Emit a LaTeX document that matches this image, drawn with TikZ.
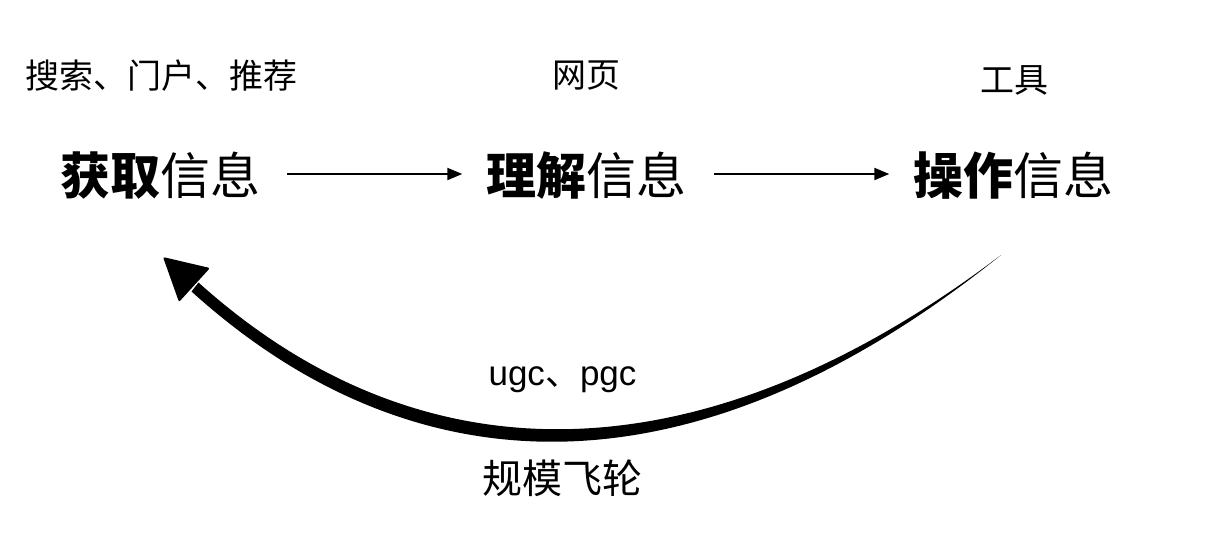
\documentclass[tikz,border=0pt]{standalone}
\usepackage{fontspec}
\setmainfont{Noto Sans CJK SC}
\newfontfamily\latinfont{Liberation Sans}
\usetikzlibrary{arrows.meta}
\tikzset{
  mainlbl/.style={inner sep=0pt, anchor=base, font=\fontsize{50}{50}\selectfont},
  smalllbl/.style={inner sep=0pt, anchor=base, font=\fontsize{34}{34}\selectfont},
  looplbl/.style={inner sep=0pt, anchor=base, font=\fontsize{40}{40}\selectfont},
  flowarrow/.style={line width=2pt, -{Triangle[length=15pt,width=12pt]}, shorten <=27pt, shorten >=24pt},
}
\begin{document}
\begin{tikzpicture}[x=1pt,y=-1pt]
\useasboundingbox[fill=white] (0,0) rectangle (1206,544);
% main labels
\node[mainlbl] (get) at (160,194) {\textbf{获取}信息};
\node[mainlbl] (understand) at (586.5,194) {\textbf{理解}信息};
\node[mainlbl] (operate) at (1013.5,194) {\textbf{操作}信息};
% small labels
\node[smalllbl] (src) at (161,88) {搜索、门户、推荐};
\node[smalllbl] (web) at (586.5,87) {网页};
\node[smalllbl] (tool) at (1014,92) {工具};
\node[smalllbl, font=\fontsize{35}{35}\selectfont] (ugc) at (562.5,385) {{\latinfont ugc}、{\latinfont pgc}};
\node[looplbl] (flywheel) at (562,493) {规模飞轮};
% straight arrows
\draw[flowarrow] (get.east|-0,174) -- (understand.west|-0,174);
\draw[flowarrow] (understand.east|-0,174) -- (operate.west|-0,174);
% tapered loop curve (from operate back to get)
\coordinate (loopstart) at (1001,255);
\coordinate (looptip) at (163,257);
\fill (loopstart) .. controls (700,483) and (420,482) .. (198.5,282.5)
  -- (191.5,291.5) .. controls (420,498) and (700,497) .. (loopstart) -- cycle;
\fill[rounded corners=2pt] (looptip) -- (210,268) -- (179,302) -- cycle;
\end{tikzpicture}
\end{document}
